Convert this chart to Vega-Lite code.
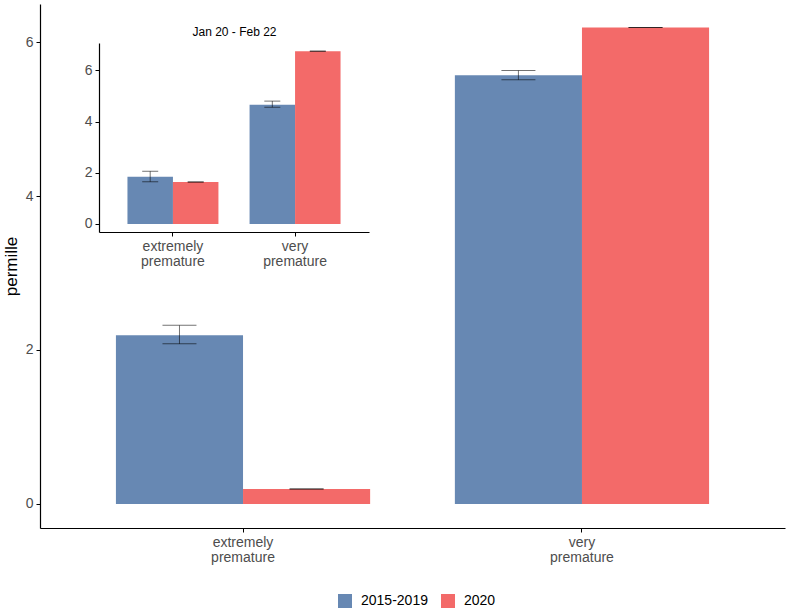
{
  "$schema": "https://vega.github.io/schema/vega-lite/v6.json",
  "width": 745,
  "height": 524,
  "autosize": "none",
  "padding": {"left": 40, "top": 4, "right": 4, "bottom": 85},
  "background": "white",
  "data": {
    "values": [
      {"panel": "main", "group": "extremely premature", "period": "2015-2019", "value": 2.19, "lo": 2.08, "hi": 2.32},
      {"panel": "main", "group": "extremely premature", "period": "2020", "value": 0.195, "lo": 0.195, "hi": 0.195},
      {"panel": "main", "group": "very premature", "period": "2015-2019", "value": 5.57, "lo": 5.51, "hi": 5.63},
      {"panel": "main", "group": "very premature", "period": "2020", "value": 6.19, "lo": 6.19, "hi": 6.19},
      {"panel": "inset", "group": "extremely premature", "period": "2015-2019", "value": 1.85, "lo": 1.65, "hi": 2.06},
      {"panel": "inset", "group": "extremely premature", "period": "2020", "value": 1.64, "lo": 1.64, "hi": 1.64},
      {"panel": "inset", "group": "very premature", "period": "2015-2019", "value": 4.66, "lo": 4.56, "hi": 4.8},
      {"panel": "inset", "group": "very premature", "period": "2020", "value": 6.75, "lo": 6.75, "hi": 6.75}
    ]
  },
  "layer": [
    {
      "transform": [{"filter": "datum.panel == 'main'"}],
      "encoding": {
        "x": {
          "field": "group",
          "type": "nominal",
          "scale": {"paddingInner": 0.25, "paddingOuter": 0.224},
          "axis": {"title": null, "labelAngle": 0, "labelExpr": "split(datum.label, ' ')"}
        },
        "xOffset": {
          "field": "period",
          "type": "nominal",
          "scale": {"paddingInner": 0, "paddingOuter": 0}
        }
      },
      "layer": [
        {
          "mark": {"type": "bar"},
          "encoding": {
            "y": {
              "field": "value",
              "type": "quantitative",
              "scale": {"domain": [-0.312, 6.494], "nice": false, "zero": false},
              "axis": {"title": "permille", "values": [0, 2, 4, 6], "format": "d"}
            },
            "color": {
              "field": "period",
              "type": "nominal",
              "scale": {"domain": ["2015-2019", "2020"], "range": ["#6788B3", "#F36A69"]},
              "legend": {"title": null, "orient": "none", "legendX": 298, "legendY": 590}
            }
          }
        },
        {
          "mark": {"type": "rule", "color": "black", "opacity": 0.55, "strokeWidth": 1},
          "encoding": {
            "y": {"field": "lo", "type": "quantitative"},
            "y2": {"field": "hi"}
          }
        },
        {
          "mark": {"type": "tick", "orient": "horizontal", "color": "black", "opacity": 0.55, "size": 34, "thickness": 1},
          "encoding": {"y": {"field": "lo", "type": "quantitative"}}
        },
        {
          "mark": {"type": "tick", "orient": "horizontal", "color": "black", "opacity": 0.55, "size": 34, "thickness": 1},
          "encoding": {"y": {"field": "hi", "type": "quantitative"}}
        }
      ]
    },
    {
      "transform": [{"filter": "datum.panel == 'inset'"}],
      "encoding": {
        "x": {
          "field": "group",
          "type": "nominal",
          "scale": {"range": [59, 329], "paddingInner": 0.255, "paddingOuter": 0.233},
          "axis": {
            "orient": "bottom",
            "offset": -296,
            "labelAngle": 0,
            "labelExpr": "split(datum.label, ' ')",
            "title": "Jan 20 - Feb 22",
            "titleY": -201,
            "titleBaseline": "middle",
            "titleFontSize": 12,
            "titleFontWeight": "normal",
            "titleColor": "black"
          }
        },
        "xOffset": {
          "field": "period",
          "type": "nominal",
          "scale": {"paddingInner": 0, "paddingOuter": 0}
        }
      },
      "layer": [
        {
          "mark": {"type": "bar"},
          "encoding": {
            "y": {
              "field": "value",
              "type": "quantitative",
              "scale": {"domain": [-0.3125, 7.07], "range": [228, 39], "nice": false, "zero": false},
              "axis": {"title": null, "orient": "left", "offset": -59, "values": [0, 2, 4, 6], "format": "d"}
            },
            "color": {"field": "period", "type": "nominal"}
          }
        },
        {
          "mark": {"type": "rule", "color": "black", "opacity": 0.55, "strokeWidth": 1},
          "encoding": {
            "y": {"field": "lo", "type": "quantitative"},
            "y2": {"field": "hi"}
          }
        },
        {
          "mark": {"type": "tick", "orient": "horizontal", "color": "black", "opacity": 0.55, "size": 16, "thickness": 1},
          "encoding": {"y": {"field": "lo", "type": "quantitative"}}
        },
        {
          "mark": {"type": "tick", "orient": "horizontal", "color": "black", "opacity": 0.55, "size": 16, "thickness": 1},
          "encoding": {"y": {"field": "hi", "type": "quantitative"}}
        }
      ]
    }
  ],
  "resolve": {
    "scale": {"x": "independent", "y": "independent", "xOffset": "independent"},
    "axis": {"x": "independent", "y": "independent"}
  },
  "config": {
    "view": {"stroke": null},
    "font": "Liberation Sans",
    "axis": {
      "grid": false,
      "domainColor": "black",
      "domainWidth": 1.2,
      "tickColor": "black",
      "tickSize": 4,
      "labelColor": "#4D4D4D",
      "labelFontSize": 14,
      "labelPadding": 3,
      "labelLineHeight": 15,
      "labelFont": "Liberation Sans",
      "titleFont": "Liberation Sans",
      "titleFontSize": 17,
      "titleFontWeight": "normal",
      "titleColor": "black",
      "titlePadding": 5
    },
    "legend": {
      "direction": "horizontal",
      "symbolType": "square",
      "symbolSize": 196,
      "symbolStrokeWidth": 0,
      "symbolOpacity": 1,
      "labelFontSize": 14,
      "labelColor": "black",
      "labelFont": "Liberation Sans",
      "labelOffset": 9,
      "columnPadding": 13
    }
  }
}
